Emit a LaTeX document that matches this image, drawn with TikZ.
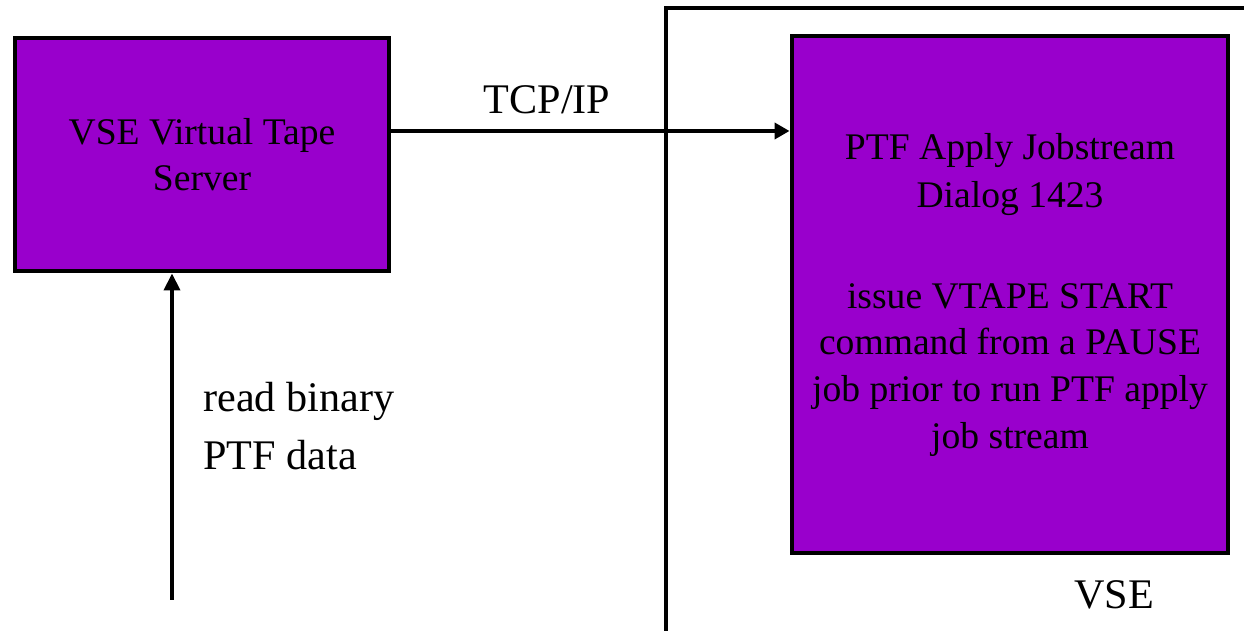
\documentclass[tikz,border=0pt]{standalone}
\usepackage{fontspec}
\setmainfont{Liberation Serif}
\usepackage{xcolor}
\definecolor{vsepurple}{HTML}{9900CC}
\usetikzlibrary{arrows.meta}

\begin{document}
\begin{tikzpicture}[
box/.style={draw=black, line width=2.8pt, fill=vsepurple, align=center, inner sep=0pt, font=\fontsize{21.4}{26.5}\selectfont},
arrow/.style={-{Triangle[length=3mm, width=3.2mm]}, line width=2.2pt},
lbl/.style={inner sep=0pt, font=\fontsize{24}{33}\selectfont}
]
\useasboundingbox (0,0) rectangle (24.88,12.62);
\node[box, minimum width=7.48cm, minimum height=4.66cm] (vtape) at (4.04,9.53) {VSE Virtual Tape\\Server};
\node[box, minimum width=8.72cm, minimum height=10.34cm] (ptf) at (20.2,6.73) {PTF Apply Jobstream\\[1pt]Dialog 1423\\[31pt]issue VTAPE START\\command from a PAUSE\\job prior to run PTF apply\\job stream};
% VSE system boundary
\draw[line width=2.2pt] (13.32,0) -- (13.32,12.46) -- (24.88,12.46);
\coordinate (tcp) at (0,10.0);
\coordinate (src) at (3.44,0.62);
\draw[arrow] (vtape.east |- tcp) -- (ptf.west |- tcp);
\draw[arrow, -{Triangle[length=3.4mm, width=3.2mm]}] (src) -- (src |- vtape.south);
\node[lbl] (tcplbl) at (10.94,10.62) {TCP/IP};
\node[lbl, anchor=west, align=left] (readlbl) at (4.06,4.09) {read binary\\PTF data};
\node[lbl] (vselbl) at (22.28,0.72) {VSE};
\end{tikzpicture}
\end{document}
